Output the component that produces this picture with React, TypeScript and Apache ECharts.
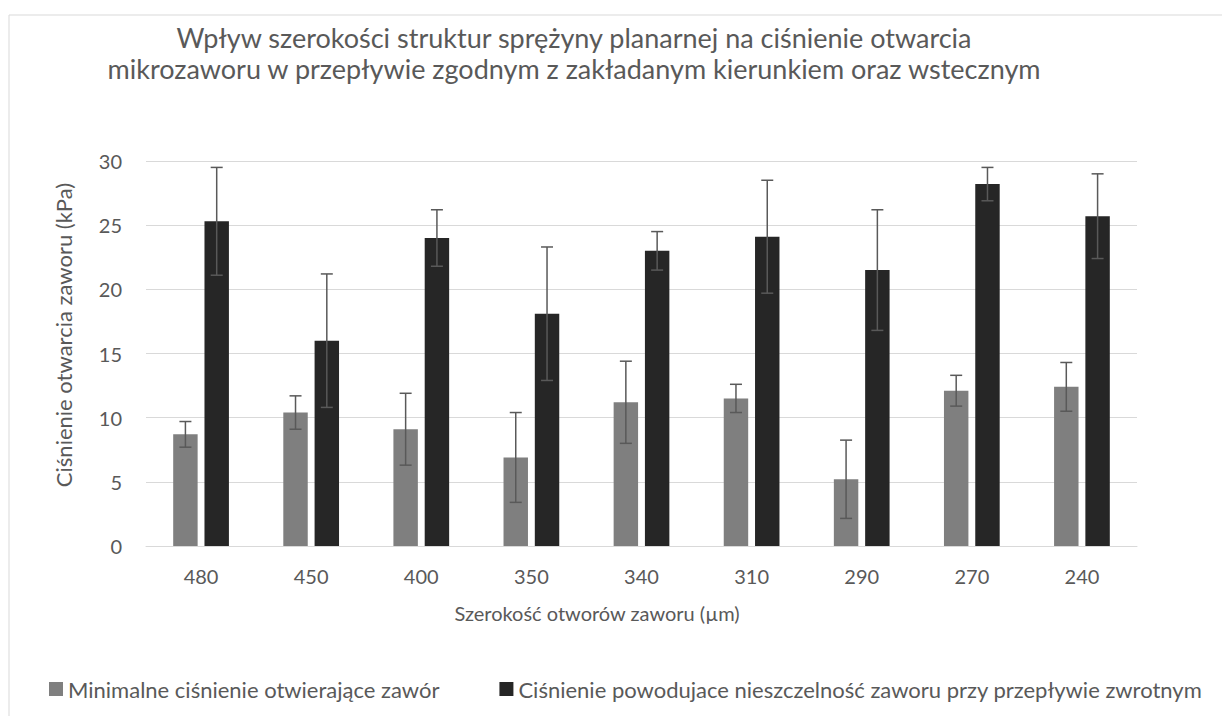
import React, { useEffect, useRef } from "react";
import * as echarts from "echarts";

const categories = ["480", "450", "400", "350", "340", "310", "290", "270", "240"];
const minOpenPressure = [8.7, 10.4, 9.1, 6.9, 11.2, 11.5, 5.2, 12.1, 12.4];
const minOpenError = [1.0, 1.3, 2.8, 3.5, 3.2, 1.1, 3.05, 1.2, 1.9];
const leakPressure = [25.3, 16.0, 24.0, 18.1, 23.0, 24.1, 21.5, 28.2, 25.7];
const leakError = [4.2, 5.2, 2.2, 5.2, 1.5, 4.4, 4.7, 1.3, 3.3];

const seriesNames = [
  "Minimalne ciśnienie otwierające zawór",
  "Ciśnienie powodujace nieszczelność zaworu przy przepływie zwrotnym",
];
const titleLines = [
  "Wpływ szerokości struktur sprężyny planarnej na ciśnienie otwarcia",
  "mikrozaworu w przepływie zgodnym z zakładanym kierunkiem oraz wstecznym",
];
const yAxisTitle = "Ciśnienie otwarcia zaworu (kPa)";
const xAxisTitle = "Szerokość otworów zaworu (µm)";

const FONT = "Lato, 'Open Sans', sans-serif";
const TEXT = "#595959";
const BAR_W = 0.222;
const BAR_GAP = 0.28;

function errorSeries(values: number[], errs: number[], side: number) {
  return {
    type: "custom",
    silent: true,
    z: 5,
    data: values.map((v, i) => [i, v - errs[i], v + errs[i]]),
    encode: { x: 0, y: [1, 2] },
    renderItem: (params: any, api: any) => {
      const idx = api.value(0);
      const lo = api.coord([idx, api.value(1)]);
      const hi = api.coord([idx, api.value(2)]);
      const band = api.size([1, 0])[0];
      const bw = band * BAR_W;
      const off = side * (bw + bw * BAR_GAP) / 2;
      const x = lo[0] + off;
      const cap = 6;
      const style = { stroke: "#595959", lineWidth: 1.5, fill: "none" };
      return {
        type: "group",
        children: [
          { type: "line", shape: { x1: x, y1: hi[1], x2: x, y2: lo[1] }, style },
          { type: "line", shape: { x1: x - cap, y1: hi[1], x2: x + cap, y2: hi[1] }, style },
          { type: "line", shape: { x1: x - cap, y1: lo[1], x2: x + cap, y2: lo[1] }, style },
        ],
      };
    },
  };
}

export default function App() {
  const ref = useRef<HTMLDivElement>(null);
  useEffect(() => {
    if (!ref.current) return;
    const chart = echarts.init(ref.current, null, { renderer: "svg" });
    chart.setOption({
      animation: false,
      backgroundColor: "#ffffff",
      textStyle: { fontFamily: FONT },
      grid: { left: 146, right: 85, top: 161, bottom: 170, containLabel: false },
      legend: {
        left: 44,
        top: 673,
        itemWidth: 14,
        itemHeight: 14,
        itemGap: 60,
        icon: "rect",
        textStyle: { color: TEXT, fontSize: 22, fontFamily: FONT },
        data: seriesNames,
      },
      xAxis: {
        type: "category",
        data: categories,
        axisLine: { lineStyle: { color: "#d9d9d9", width: 1 } },
        axisTick: { show: false },
        axisLabel: { color: TEXT, fontSize: 20, margin: 20, fontFamily: FONT },
      },
      yAxis: {
        type: "value",
        min: 0,
        max: 30,
        interval: 5,
        axisLine: { show: false },
        axisTick: { show: false },
        splitLine: { lineStyle: { color: "#d9d9d9", width: 1 } },
        axisLabel: { color: TEXT, fontSize: 20, margin: 24, fontFamily: FONT },
      },
      graphic: [
        {
          type: "rect",
          shape: { x: 9, y: 15, width: 1400, height: 900 },
          style: { fill: "none", stroke: "#d9d9d9", lineWidth: 1 },
          silent: true,
        },
        {
          type: "text",
          x: 574,
          y: 37,
          style: { text: titleLines[0], fill: TEXT, font: `27px ${FONT}`, textAlign: "center", textVerticalAlign: "middle" },
        },
        {
          type: "text",
          x: 574,
          y: 68,
          style: { text: titleLines[1], fill: TEXT, font: `27px ${FONT}`, textAlign: "center", textVerticalAlign: "middle" },
        },
        {
          type: "text",
          x: 63,
          y: 335,
          rotation: Math.PI / 2,
          style: { text: yAxisTitle, fill: TEXT, font: `22px ${FONT}`, textAlign: "center", textVerticalAlign: "middle" },
        },
        {
          type: "text",
          x: 597,
          y: 613,
          style: { text: xAxisTitle, fill: TEXT, font: `20px ${FONT}`, textAlign: "center", textVerticalAlign: "middle" },
        },
      ],
      series: [
        {
          name: seriesNames[0],
          type: "bar",
          data: minOpenPressure,
          barWidth: `${BAR_W * 100}%`,
          barGap: `${BAR_GAP * 100}%`,
          itemStyle: { color: "#7f7f7f" },
        },
        {
          name: seriesNames[1],
          type: "bar",
          data: leakPressure,
          barWidth: `${BAR_W * 100}%`,
          barGap: `${BAR_GAP * 100}%`,
          itemStyle: { color: "#262626" },
        },
        errorSeries(minOpenPressure, minOpenError, -1),
        errorSeries(leakPressure, leakError, 1),
      ],
    });
    return () => chart.dispose();
  }, []);
  return (
    <div
      ref={ref}
      style={{ position: "fixed", left: 0, top: 0, width: 1222, height: 716, background: "#fff" }}
    />
  );
}
